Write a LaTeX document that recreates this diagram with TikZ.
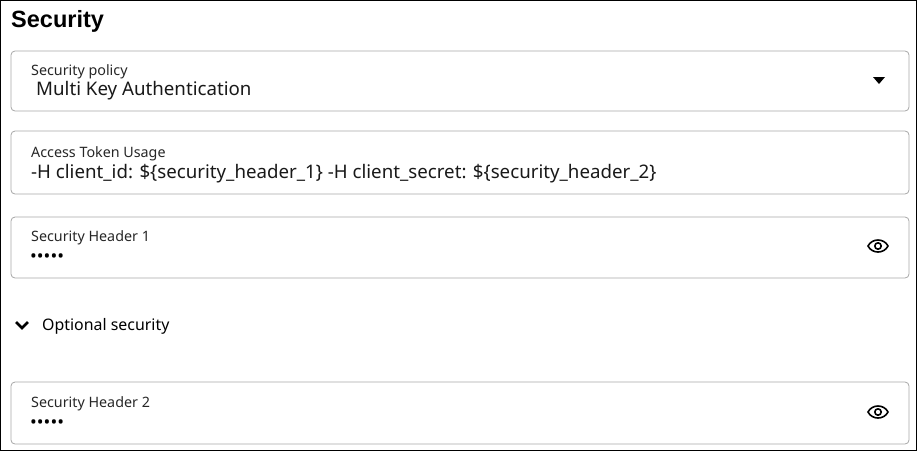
\documentclass[tikz,border=0pt]{standalone}
\usepackage{fontspec}
\setmainfont{Noto Sans}
\newfontfamily\titlefont{Liberation Sans}
\begin{document}
\begin{tikzpicture}[x=1pt,y=-1pt,
  field/.style={draw=gray!70,rounded corners=4pt,line width=0.8pt},
  lab/.style={anchor=west,inner sep=0,font=\fontsize{14.3}{16}\selectfont,text=black!85},
  val/.style={anchor=west,inner sep=0,font=\fontsize{18.7}{22}\selectfont,text=black!90},
  dots/.style={anchor=west,inner sep=0,font=\fontsize{18}{20}\selectfont},
]
\useasboundingbox (0,0) rectangle (917,451);
\draw[line width=1.2pt] (0.6,0.6) rectangle (916.4,450.4);
\node[anchor=west,inner sep=0,font=\titlefont\fontsize{23.5}{27}\selectfont\bfseries] (title) at (11,21) {Security};
% box 1
\draw[field] (11,51) rectangle (909,111);
\node[lab] (l1) at (31,72) {Security policy};
\node[val] (v1) at (36,91) {Multi Key Authentication};
\fill (873,77) -- (885,77) -- (879,84) -- cycle;
% box 2
\draw[field] (11,131) rectangle (909,194);
\node[lab] (l2) at (31,154) {Access Token Usage};
\node[val] (v2) at (31,174) {-H client\_id: \$\{security\_header\_1\} -H client\_secret: \$\{security\_header\_2\}};
% box 3
\draw[field] (11,217) rectangle (909,278);
\node[lab] (l3) at (31,238) {Security Header 1};
\node[dots] (d3) at (30,258) {•••••};
% box 4
\draw[field] (11,382) rectangle (909,444);
\node[lab] (l4) at (31,404) {Security Header 2};
\node[dots] (d4) at (30,424) {•••••};
% eyes
\foreach \yy in {246,412}{
  \draw[line width=1.6pt] (868,\yy) .. controls (872,\yy-8) and (884,\yy-8) .. (888,\yy)
    .. controls (884,\yy+8) and (872,\yy+8) .. (868,\yy) -- cycle;
  \draw[line width=1.6pt] (878,\yy) circle (3.2);
}
% optional
\draw[line width=2.6pt] (16,322) -- (22,328) -- (28,322);
\node[anchor=west,inner sep=0,font=\fontsize{15.9}{18}\selectfont] (opt) at (42,326) {Optional security};
\end{tikzpicture}
\end{document}
